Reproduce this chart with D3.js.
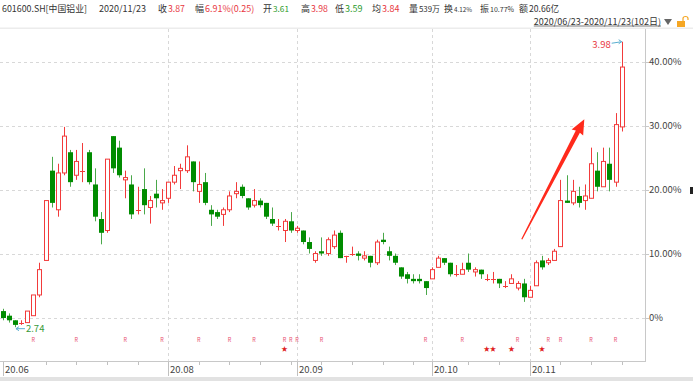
<!DOCTYPE html>
<html>
<head>
<meta charset="utf-8">
<script src="https://cdn.jsdelivr.net/npm/d3@7"></script>
<style>
  body { margin: 0; background: #fff; }
  svg { display: block; font-family: "Noto Sans CJK SC", "Noto Sans", sans-serif; }
</style>
</head>
<body>
<div id="chart"></div>
<script>
// 601600.SH 日K (2020/06/23 - 2020/11/23, 102 trading days)
const openP = [2.81,2.79,2.77,2.76,2.76,2.79,2.88,3.03,3.42,3.25,
  3.41,3.50,3.40,3.42,3.50,3.36,3.21,3.16,3.57,3.52,
  3.38,3.36,3.25,3.34,3.26,3.32,3.28,3.30,3.37,3.42,
  3.42,3.46,3.33,3.37,3.25,3.24,3.23,3.25,3.32,3.35,
  3.30,3.27,3.29,3.28,3.21,3.18,3.16,3.20,3.16,3.16,
  3.11,3.03,3.07,3.06,3.09,3.15,3.05,3.06,3.06,3.04,
  3.05,3.02,3.12,3.07,3.05,3.00,2.97,2.95,2.95,2.94,
  2.95,3.00,3.04,3.02,2.97,2.97,3.02,2.98,2.99,2.95,
  2.95,2.95,2.92,2.93,2.91,2.93,2.87,2.92,3.03,3.02,
  3.03,3.09,3.29,3.28,3.31,3.29,3.30,3.42,3.35,3.45,
  3.37,3.61];
const highP = [2.82,2.80,2.77,2.77,2.81,2.88,3.02,3.29,3.48,3.45,
  3.61,3.51,3.51,3.54,3.51,3.43,3.24,3.47,3.57,3.55,
  3.42,3.40,3.35,3.43,3.31,3.38,3.34,3.37,3.44,3.45,
  3.53,3.46,3.46,3.41,3.27,3.25,3.26,3.33,3.37,3.36,
  3.30,3.34,3.30,3.28,3.26,3.21,3.21,3.24,3.18,3.16,
  3.13,3.07,3.13,3.13,3.16,3.16,3.05,3.09,3.07,3.07,
  3.05,3.12,3.15,3.09,3.06,3.00,2.98,2.97,2.97,2.94,
  3.00,3.05,3.04,3.02,3.01,3.02,3.06,3.00,2.99,2.97,
  2.98,2.95,2.94,2.97,2.94,2.95,2.92,3.03,3.05,3.04,
  3.08,3.38,3.40,3.38,3.35,3.36,3.52,3.50,3.52,3.52,
  3.67,3.98];
const lowP = [2.77,2.76,2.74,2.75,2.76,2.79,2.87,3.03,3.26,3.22,
  3.40,3.35,3.38,3.37,3.36,3.20,3.10,3.15,3.41,3.39,
  3.30,3.21,3.23,3.23,3.19,3.26,3.25,3.28,3.36,3.34,
  3.41,3.33,3.28,3.27,3.18,3.21,3.18,3.24,3.30,3.30,
  3.25,3.26,3.26,3.21,3.18,3.16,3.11,3.15,3.15,3.10,
  3.06,3.02,3.05,3.05,3.08,3.04,3.02,3.05,3.03,3.03,
  3.00,3.01,3.10,3.03,3.01,2.95,2.93,2.93,2.93,2.88,
  2.95,3.00,3.01,2.96,2.96,2.97,2.98,2.96,2.95,2.94,
  2.93,2.91,2.91,2.93,2.90,2.85,2.87,2.92,2.99,3.01,
  3.03,3.09,3.28,3.27,3.26,3.25,3.30,3.33,3.35,3.33,
  3.35,3.59];
const closeP = [2.78,2.77,2.75,2.76,2.81,2.88,2.99,3.29,3.28,3.41,
  3.57,3.37,3.46,3.42,3.37,3.22,3.15,3.47,3.43,3.40,
  3.39,3.23,3.25,3.27,3.29,3.30,3.29,3.37,3.40,3.43,
  3.48,3.37,3.36,3.28,3.23,3.22,3.25,3.31,3.33,3.31,
  3.26,3.29,3.27,3.22,3.19,3.18,3.20,3.16,3.17,3.11,
  3.08,3.06,3.06,3.12,3.14,3.04,3.05,3.06,3.05,3.05,
  3.02,3.11,3.11,3.05,3.02,2.96,2.95,2.94,2.94,2.91,
  2.99,3.04,3.02,2.97,2.97,2.99,2.99,2.99,2.97,2.95,
  2.95,2.93,2.92,2.95,2.93,2.87,2.90,3.02,3.00,3.03,
  3.07,3.29,3.28,3.33,3.28,3.31,3.45,3.35,3.46,3.38,
  3.62,3.87];

const monthLabels = ["20.06", "20.08", "20.09", "20.10", "20.11"];
const monthStart = [0, 27, 48, 70, 86];           // 每月第一个交易日
const weekTicks = [7, 12, 17, 22, 32, 37, 42, 47, 52, 57, 62, 67, 76, 81, 91, 96, 101];
const rMarks = [5, 12, 20, 26, 32, 37, 41, 46, 47, 48, 52, 69, 75, 84, 89, 91, 96, 100];
const starMarks = [46, 79, 80, 83, 88];
const yTicks = [0, 10, 20, 30, 40];

const headerItems = [
  ["601600.SH[中国铝业]", "txt"], ["2020/11/23", "txt"],
  ["收", "txt"], ["3.87", "up"], ["幅", "txt"], ["6.91%(0.25)", "up"],
  ["开", "txt"], ["3.61", "down"], ["高", "txt"], ["3.98", "up"],
  ["低", "txt"], ["3.59", "down"], ["均", "txt"], ["3.84", "up"],
  ["量", "txt"], ["539万", "txt"], ["换", "txt"], ["4.12%", "txt"],
  ["振", "txt"], ["10.77%", "txt"], ["额", "txt"], ["20.66亿", "txt"]
];
const rangeLabel = "2020/06/23-2020/11/23(102日)";

const W = 693, H = 381;
const RED = "#f23b3b", GREEN = "#008c00", GREEN_WICK = "#4aa84a";
const base = closeP[0];
const pct = p => (p / base - 1) * 100;

const svg = d3.select("#chart").append("svg")
  .attr("width", W)
  .attr("height", H)

const x = d3.scaleLinear().domain([0, closeP.length - 1]).range([2.7, 621.7]);
const y = d3.scaleLinear().domain([-6.72, 45.31]).range([361, 28]);

// 顶部信息栏
const hx = [2, 99, 158, 168, 195, 205, 263, 273, 301, 311, 335, 345, 372, 382, 409, 419, 444, 454, 480, 490, 519, 529];
const hEnd = [88, 150, 168, 186, 205, 256, 273, 290, 311, 329, 345, 366, 382, 403, 419, 441, 454, 473, 490, 515, 529, 560];
const hColor = { txt: "#333", up: "#e8383f", down: "#2a9a2a" };
svg.append("g").selectAll("text")
  .data(headerItems)
  .join("text")
  .attr("x", (d, i) => hx[i])
  .attr("y", 12)
  .attr("font-size", 9)
  .attr("fill", d => hColor[d[1]])
  .text(d => d[0])
  .each(function (d, i) {
    const room = hEnd[i] - hx[i] - 1;
    const w = this.getComputedTextLength();
    if (w > room) d3.select(this).attr("font-size", (9 * room / w).toFixed(2));
  });

const rl = svg.append("text")
  .attr("x", 661).attr("y", 24.5)
  .attr("text-anchor", "end")
  .attr("font-size", 9)
  .attr("fill", "#333")
  .text(rangeLabel);
const rlw = rl.node().getComputedTextLength();
svg.append("line").attr("x1", 661 - rlw).attr("x2", 661).attr("y1", 26).attr("y2", 26)
  .attr("stroke", "#555").attr("stroke-width", 0.8);
svg.append("path").attr("d", "M664,19 L672,19 L668,25 Z").attr("fill", "#666");
// 小锁
svg.append("rect").attr("x", 677).attr("y", 21).attr("width", 8).attr("height", 6).attr("fill", "#f5a623");
svg.append("path").attr("d", "M683,21 L683,18.5 Q683,16.5 685.5,16.5 Q688,16.5 688,18.5 L688,20")
  .attr("fill", "none").attr("stroke", "#f5a623").attr("stroke-width", 1.2);

svg.append("rect").attr("x", 0).attr("y", 27.5).attr("width", W).attr("height", 1.5).attr("fill", "#ececec");

// 网格
const grid = svg.append("g");
grid.selectAll(".hg").data(yTicks).join("line")
  .attr("x1", 0).attr("x2", 645)
  .attr("y1", d => Math.round(y(d)) + 0.5).attr("y2", d => Math.round(y(d)) + 0.5)
  .attr("stroke", "#d8d8d8").attr("stroke-dasharray", "3,3");
grid.selectAll(".vg").data(monthStart.slice(1)).join("line")
  .attr("x1", d => Math.round(x(d)) + 0.5).attr("x2", d => Math.round(x(d)) + 0.5)
  .attr("y1", 29).attr("y2", 361)
  .attr("stroke", "#d8d8d8").attr("stroke-dasharray", "3,3");

// 右侧坐标轴
svg.append("line").attr("x1", 645.5).attr("x2", 645.5).attr("y1", 29).attr("y2", 362).attr("stroke", "#c8c8c8");
const yAxis = svg.append("g");
yAxis.selectAll("line").data(yTicks).join("line")
  .attr("x1", 645).attr("x2", 649)
  .attr("y1", d => Math.round(y(d)) + 0.5).attr("y2", d => Math.round(y(d)) + 0.5)
  .attr("stroke", "#c8c8c8");
yAxis.selectAll("text").data(yTicks).join("text")
  .attr("x", 649).attr("y", d => y(d))
  .attr("dy", "0.35em")
  .attr("font-size", 9.5)
  .attr("fill", "#444")
  .text(d => d === 0 ? "0%" : d.toFixed(2) + "%");
svg.append("rect").attr("x", 690).attr("y", 187).attr("width", 3).attr("height", 7).attr("fill", "#222");

// 底部时间轴
svg.append("line").attr("x1", 0).attr("x2", 646).attr("y1", 361.5).attr("y2", 361.5).attr("stroke", "#c8c8c8");
svg.append("g").selectAll("line").data(weekTicks).join("line")
  .attr("x1", d => Math.round(x(d)) + 0.5).attr("x2", d => Math.round(x(d)) + 0.5)
  .attr("y1", 362).attr("y2", 365)
  .attr("stroke", "#c0c0c0");
const mAxis = svg.append("g");
mAxis.selectAll("line").data(monthStart).join("line")
  .attr("x1", d => Math.round(x(d)) + 0.5).attr("x2", d => Math.round(x(d)) + 0.5)
  .attr("y1", 362).attr("y2", 376)
  .attr("stroke", "#c0c0c0");
mAxis.selectAll("text").data(monthStart).join("text")
  .attr("x", d => Math.round(x(d)) + 2)
  .attr("y", 373)
  .attr("font-size", 9.5)
  .attr("fill", "#444")
  .text((d, i) => monthLabels[i]);
svg.append("rect").attr("x", 0).attr("y", 377).attr("width", W).attr("height", 4).attr("fill", "#e2e2e2");

// K线
const candles = svg.append("g").selectAll("g")
  .data(closeP.map((c, i) => ({ i, o: openP[i], h: highP[i], l: lowP[i], c })))
  .join("g")
  .attr("transform", d => `translate(${Math.round(x(d.i))},0)`);

candles.append("line")
  .attr("x1", 0.5).attr("x2", 0.5)
  .attr("y1", d => y(pct(d.h))).attr("y2", d => y(pct(d.l)))
  .attr("stroke", d => d.c >= d.o ? RED : GREEN_WICK);

candles.filter(d => d.c > d.o).append("rect")
  .attr("x", -1.5).attr("width", 4)
  .attr("y", d => y(pct(d.c)))
  .attr("height", d => Math.max(1, y(pct(d.o)) - y(pct(d.c))))
  .attr("fill", "#fff").attr("stroke", RED);

candles.filter(d => d.c < d.o).append("rect")
  .attr("x", -2).attr("width", 5)
  .attr("y", d => y(pct(d.o)))
  .attr("height", d => Math.max(1.5, y(pct(d.c)) - y(pct(d.o))))
  .attr("fill", GREEN);

candles.filter(d => d.c === d.o).append("line")
  .attr("x1", -2).attr("x2", 3)
  .attr("y1", d => Math.round(y(pct(d.c))) + 0.5).attr("y2", d => Math.round(y(pct(d.c))) + 0.5)
  .attr("stroke", RED);

// 最高/最低价标注
const hiIdx = d3.maxIndex(highP), loIdx = d3.minIndex(lowP);
const hx0 = x(hiIdx), hy0 = y(pct(highP[hiIdx]));
svg.append("line").attr("x1", hx0 - 10).attr("y1", hy0 + 1.5).attr("x2", hx0).attr("y2", hy0)
  .attr("stroke", "#5aaed0");
svg.append("path").attr("d", `M${hx0 - 3},${hy0 - 2} L${hx0},${hy0} L${hx0 - 3},${hy0 + 2}`)
  .attr("fill", "none").attr("stroke", "#5aaed0");
svg.append("text").attr("x", hx0 - 11).attr("y", hy0 + 3)
  .attr("dy", "0.35em").attr("text-anchor", "end")
  .attr("font-size", 9.5).attr("fill", "#e8383f")
  .text(highP[hiIdx].toFixed(2));

const lx0 = x(loIdx) + 1, ly0 = y(pct(lowP[loIdx])) + 1.5;
svg.append("line").attr("x1", lx0).attr("y1", ly0).attr("x2", lx0 + 9).attr("y2", ly0)
  .attr("stroke", "#5aaed0");
svg.append("path").attr("d", `M${lx0 + 3},${ly0 - 2} L${lx0},${ly0} L${lx0 + 3},${ly0 + 2}`)
  .attr("fill", "none").attr("stroke", "#5aaed0");
svg.append("text").attr("x", lx0 + 10).attr("y", ly0)
  .attr("dy", "0.35em")
  .attr("font-size", 9.5).attr("fill", "#3a9a3a")
  .text(lowP[loIdx].toFixed(2));

// 信号标记
svg.append("g").selectAll("text").data(rMarks).join("text")
  .attr("x", d => x(d)).attr("y", 342)
  .attr("text-anchor", "middle")
  .attr("font-size", 5.5).attr("fill", "#e8506e")
  .text("R");
svg.append("g").selectAll("text").data(starMarks).join("text")
  .attr("x", d => x(d)).attr("y", 351)
  .attr("text-anchor", "middle")
  .attr("font-size", 6.5).attr("fill", "#e02020")
  .text("★");

// 手绘红色箭头
const arrowFrom = { i: 84.7, p: 12.3 }, arrowTo = { i: 94.9, p: 31.05 };
const ax0 = x(arrowFrom.i), ay0 = y(arrowFrom.p), ax1 = x(arrowTo.i), ay1 = y(arrowTo.p);
const len = Math.hypot(ax1 - ax0, ay1 - ay0);
const ux = (ax1 - ax0) / len, uy = (ay1 - ay0) / len, nx = -uy, ny = ux;
const pt = (t, w) => [ax0 + ux * t + nx * w, ay0 + uy * t + ny * w];
const hb = len - 14;
svg.append("polygon")
  .attr("points", [pt(0, -0.6), pt(hb, -2.3), pt(hb - 1, -6.5), pt(len, 0), pt(hb - 1, 6.5), pt(hb, 2.3), pt(0, 0.6)]
    .map(p => p.join(",")).join(" "))
  .attr("fill", "#ff2a1c");
</script>
</body>
</html>
